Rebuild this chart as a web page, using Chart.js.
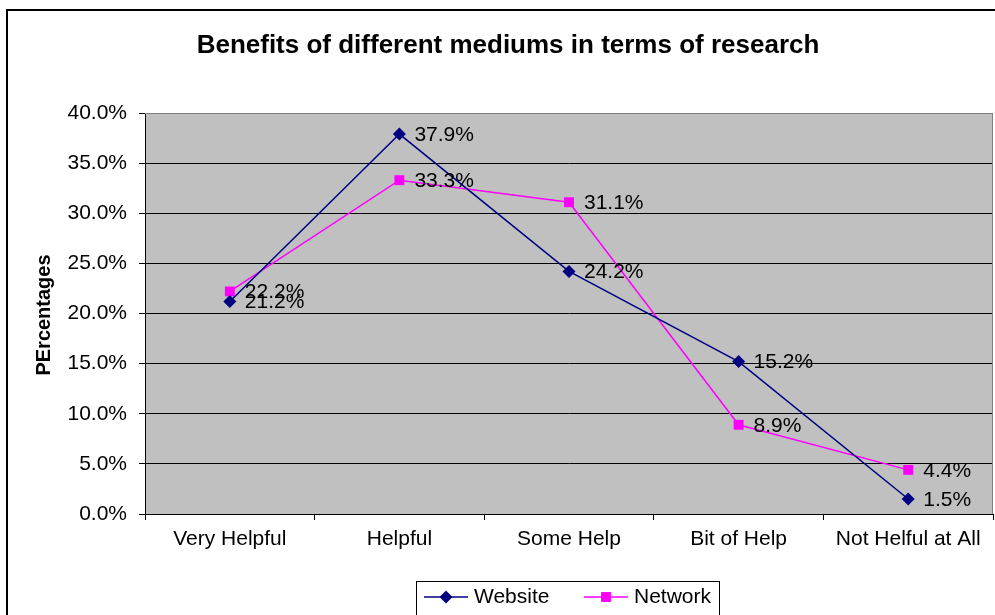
<!DOCTYPE html>
<html>
<head>
<meta charset="utf-8">
<script src="https://cdn.jsdelivr.net/npm/chart.js@4.4.1/dist/chart.umd.min.js"></script>
<style>
  html, body { margin: 0; padding: 0; background: #fff; }
  #wrap { width: 995px; height: 615px; }
</style>
</head>
<body>
<div id="wrap"><canvas id="chart-benefits" width="995" height="615"></canvas></div>
<script>
var categories = ['Very Helpful', 'Helpful', 'Some Help', 'Bit of Help', 'Not Helful at All'];
var websiteValues = [21.2, 37.9, 24.2, 15.2, 1.5];
var networkValues = [22.2, 33.3, 31.1, 8.9, 4.4];
var yTicks = [0, 5, 10, 15, 20, 25, 30, 35, 40];

var chartTitle = 'Benefits of different mediums in terms of research';
var yTitle = 'PErcentages';
var FONT = '"Liberation Sans", Arial, sans-serif';

function pct(v) { return v.toFixed(1) + '%'; }

// frame, title, axis title, value labels and legend box
var decorations = {
	id: 'decorations',
	beforeDraw: function(chart) {
		var ctx = chart.ctx, a = chart.chartArea;
		ctx.save();
		ctx.fillStyle = '#fff';
		ctx.fillRect(0, 0, chart.width, chart.height);
		ctx.fillStyle = '#c0c0c0';
		ctx.fillRect(a.left, a.top, a.right - a.left, a.bottom - a.top);
		ctx.restore();
	},
	afterDatasetsDraw: function(chart) {
		var ctx = chart.ctx;
		ctx.save();
		ctx.font = '21px ' + FONT;
		ctx.fillStyle = '#000';
		ctx.textAlign = 'left';
		ctx.textBaseline = 'middle';
		chart.data.datasets.forEach(function(ds, i) {
			chart.getDatasetMeta(i).data.forEach(function(pt, j) {
				ctx.fillText(pct(ds.data[j]), pt.x + 15, pt.y + 1);
			});
		});
		ctx.restore();
	},
	afterDraw: function(chart) {
		var ctx = chart.ctx, a = chart.chartArea;
		ctx.save();
		// grey plot border, top and right
		ctx.strokeStyle = '#808080';
		ctx.lineWidth = 1;
		ctx.beginPath();
		ctx.moveTo(a.left, a.top + 0.5);
		ctx.lineTo(a.right - 0.5, a.top + 0.5);
		ctx.lineTo(a.right - 0.5, a.bottom);
		ctx.stroke();

		// outer frame
		ctx.strokeStyle = '#000';
		ctx.lineWidth = 2;
		ctx.beginPath();
		ctx.moveTo(7, chart.height);
		ctx.lineTo(7, 10);
		ctx.lineTo(chart.width, 10);
		ctx.stroke();

		// title
		ctx.fillStyle = '#000';
		ctx.textAlign = 'center';
		ctx.textBaseline = 'middle';
		ctx.font = 'bold 26px ' + FONT;
		ctx.fillText(chartTitle, 508, 46);

		// y axis title
		ctx.save();
		ctx.translate(44, 315);
		ctx.rotate(-Math.PI / 2);
		ctx.font = 'bold 20px ' + FONT;
		ctx.fillText(yTitle, 0, 0);
		ctx.restore();

		// legend
		ctx.lineWidth = 1;
		ctx.strokeStyle = '#000';
		ctx.strokeRect(416.5, 581.5, 303, 40);
		var entries = [{x: 424}, {x: 584}];
		ctx.font = '21px ' + FONT;
		ctx.textAlign = 'left';
		chart.data.datasets.forEach(function(ds, i) {
			var x0 = entries[i].x, y0 = 597;
			ctx.strokeStyle = ds.borderColor;
			ctx.lineWidth = 1.5;
			ctx.beginPath();
			ctx.moveTo(x0, y0);
			ctx.lineTo(x0 + 44, y0);
			ctx.stroke();
			ctx.fillStyle = ds.pointBackgroundColor;
			Chart.helpers.drawPoint(ctx, {pointStyle: ds.pointStyle, radius: ds.pointRadius, rotation: 0, borderWidth: 0}, x0 + 22, y0);
			ctx.fillStyle = '#000';
			ctx.fillText(ds.label, x0 + 50, y0);
		});
		ctx.restore();
	}
};

var canvas = document.getElementById('chart-benefits');
var chart = new Chart(canvas, {
	type: 'line',
	data: {
		labels: categories,
		datasets: [{
			label: 'Website',
			data: websiteValues,
			borderColor: '#000080',
			backgroundColor: '#000080',
			pointBackgroundColor: '#000080',
			pointBorderColor: '#000080',
			pointStyle: 'rectRot',
			pointRadius: 6.5,
			pointBorderWidth: 0,
			borderWidth: 1.5,
			lineTension: 0,
			fill: false
		}, {
			label: 'Network',
			data: networkValues,
			borderColor: '#ff00ff',
			backgroundColor: '#ff00ff',
			pointBackgroundColor: '#ff00ff',
			pointBorderColor: '#ff00ff',
			pointStyle: 'rect',
			pointRadius: 7,
			pointBorderWidth: 0,
			borderWidth: 1.5,
			lineTension: 0,
			fill: false
		}]
	},
	options: {
		responsive: false,
		animation: false,
		events: [],
		layout: { autoPadding: false, padding: { top: 113, right: 2, left: 0, bottom: 0 } },
		plugins: {
			legend: { display: false },
			title: { display: false },
			tooltip: { enabled: false }
		},
		scales: {
			x: {
				offset: true,
				grid: {
					offset: true,
					drawOnChartArea: false,
					drawTicks: true,
					tickLength: 6,
					color: '#000'
				},
				border: { color: '#000', width: 1 },
				ticks: {
					color: '#000',
					padding: 7,
					maxRotation: 0,
					autoSkip: false,
					font: { family: FONT, size: 21 }
				},
				afterFit: function(scale) {
					scale.height = 101;
					scale.paddingLeft = 0;
					scale.paddingRight = 0;
				}
			},
			y: {
				min: 0,
				max: 40,
				afterBuildTicks: function(scale) {
					scale.ticks = yTicks.map(function(v) { return {value: v}; });
				},
				grid: {
					color: function(c) { return c.tick && c.tick.value === 40 ? '#808080' : '#000'; },
					lineWidth: 1,
					tickLength: 6,
					tickColor: '#000'
				},
				border: { color: '#000', width: 1 },
				ticks: {
					color: '#000',
					padding: 12,
					font: { family: FONT, size: 21 },
					callback: function(v) { return pct(v); }
				},
				afterFit: function(scale) { scale.width = 145; }
			}
		}
	},
	plugins: [decorations]
});
</script>
</body>
</html>
